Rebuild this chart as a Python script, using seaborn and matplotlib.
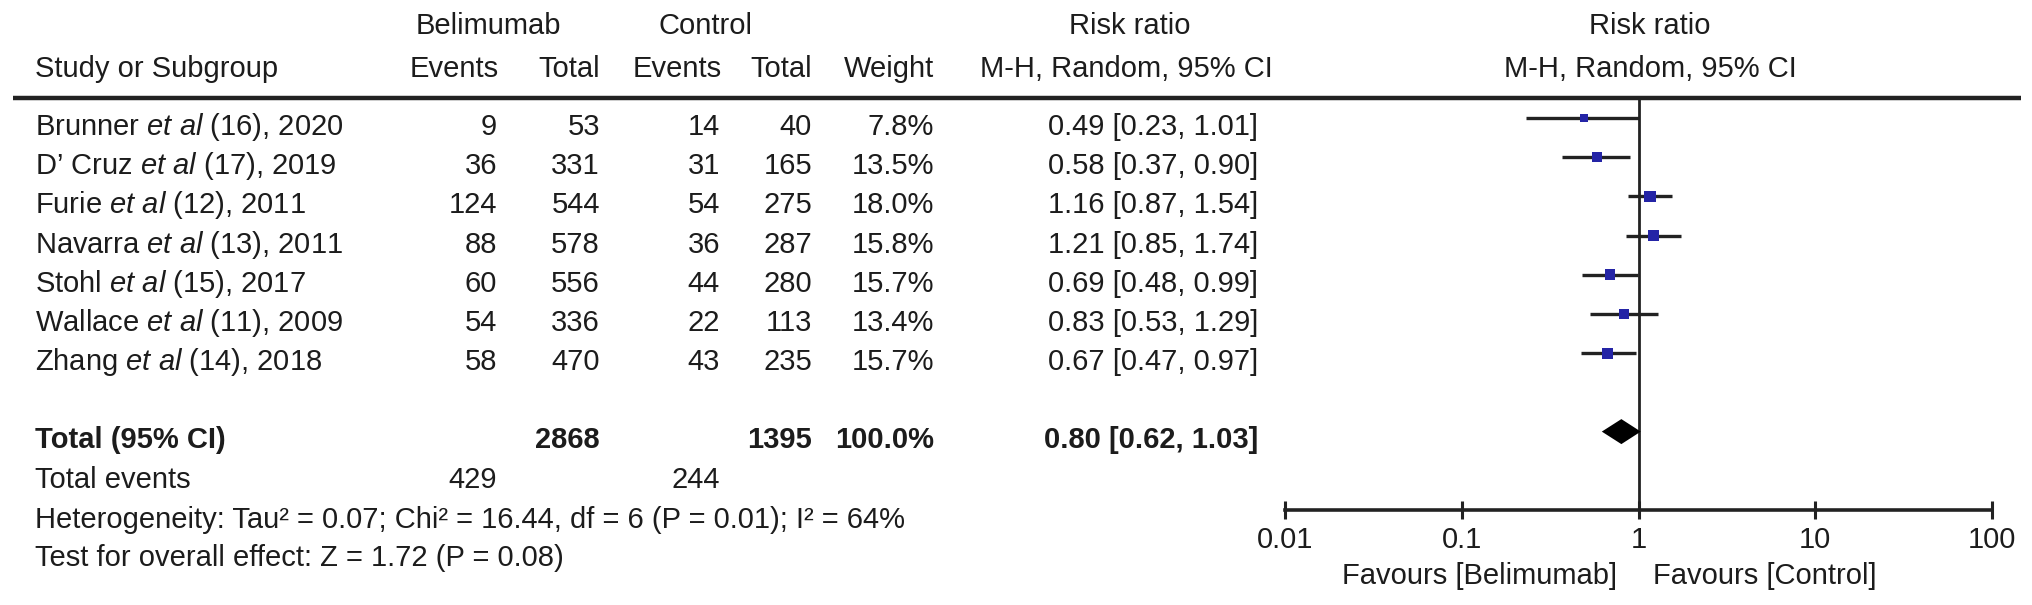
import numpy as np
import pandas as pd
import matplotlib
matplotlib.use("Agg")
import matplotlib.pyplot as plt
import seaborn as sns

# ---------------- data ----------------
authors = ["Brunner", "D’ Cruz", "Furie", "Navarra", "Stohl", "Wallace", "Zhang"]
refs = ["(16), 2020", "(17), 2019", "(12), 2011", "(13), 2011", "(15), 2017", "(11), 2009", "(14), 2018"]
bel_events = [9, 36, 124, 88, 60, 54, 58]
bel_total = [53, 331, 544, 578, 556, 336, 470]
ctl_events = [14, 31, 54, 36, 44, 22, 43]
ctl_total = [40, 165, 275, 287, 280, 113, 235]
weights = [7.8, 13.5, 18.0, 15.8, 15.7, 13.4, 15.7]
rr = [0.49, 0.58, 1.16, 1.21, 0.69, 0.83, 0.67]
rr_lo = [0.23, 0.37, 0.87, 0.85, 0.48, 0.53, 0.47]
rr_hi = [1.01, 0.90, 1.54, 1.74, 0.99, 1.29, 0.97]
total_bel = 2868
total_ctl = 1395
total_weight = "100.0%"
total_rr = 0.80
total_lo = 0.62
total_hi = 1.03
events_bel = 429
events_ctl = 244
heterogeneity = "Heterogeneity: Tau² = 0.07; Chi² = 16.44, df = 6 (P = 0.01); I² = 64%"
overall = "Test for overall effect: Z = 1.72 (P = 0.08)"
xticks = [0.01, 0.1, 1, 10, 100]
xticklabels = ["0.01", "0.1", "1", "10", "100"]
fav_left = "Favours [Belimumab]"
fav_right = "Favours [Control]"

# ---------------- style ----------------
sns.set_theme(style="white")
plt.rcParams["font.family"] = ["Liberation Sans", "DejaVu Sans"]
plt.rcParams["mathtext.fontset"] = "custom"
plt.rcParams["mathtext.rm"] = "Liberation Sans"
plt.rcParams["mathtext.it"] = "Liberation Sans:italic"
plt.rcParams["mathtext.bf"] = "Liberation Sans:bold"

W, H = 2032, 605
fig = plt.figure(figsize=(W / 100, H / 100), dpi=100)
fig.patch.set_facecolor("white")

FS = 21
TXT = "#1c1c1c"

# text overlay in pixel coordinates
tx = fig.add_axes([0, 0, 1, 1])
tx.set_xlim(0, W)
tx.set_ylim(H, 0)
tx.axis("off")

def put(x, y, s, ha="left", bold=False):
    tx.text(x, y, s, ha=ha, va="center", fontsize=FS, color=TXT,
            fontweight="bold" if bold else "normal")

# headers
put(488, 26, "Belimumab", ha="center")
put(705, 26, "Control", ha="center")
put(1130, 26, "Risk ratio", ha="center")
put(1650, 26, "Risk ratio", ha="center")
put(35, 69, "Study or Subgroup")
put(499, 69, "Events", ha="right")
put(600, 69, "Total", ha="right")
put(722, 69, "Events", ha="right")
put(812, 69, "Total", ha="right")
put(934, 69, "Weight", ha="right")
put(1126, 69, "M-H, Random, 95% CI", ha="center")
put(1650, 69, "M-H, Random, 95% CI", ha="center")
tx.plot([13, 2021], [98, 98], color="#222222", lw=3.2, solid_capstyle="butt")

# study rows
row0, step = 127, 39.2
for i in range(len(authors)):
    y = row0 + step * i
    put(35, y, authors[i] + r" $\mathit{et\ al}$ " + refs[i])
    put(497, y, str(bel_events[i]), ha="right")
    put(600, y, str(bel_total[i]), ha="right")
    put(720, y, str(ctl_events[i]), ha="right")
    put(812, y, str(ctl_total[i]), ha="right")
    put(934, y, f"{weights[i]:.1f}%", ha="right")
    put(1258, y, f"{rr[i]:.2f} [{rr_lo[i]:.2f}, {rr_hi[i]:.2f}]", ha="right")

# totals
put(35, 440, "Total (95% CI)", bold=True)
put(600, 440, str(total_bel), ha="right", bold=True)
put(812, 440, str(total_ctl), ha="right", bold=True)
put(934, 440, total_weight, ha="right", bold=True)
put(1258, 440, f"{total_rr:.2f} [{total_lo:.2f}, {total_hi:.2f}]", ha="right", bold=True)
put(35, 480, "Total events")
put(497, 480, str(events_bel), ha="right")
put(720, 480, str(events_ctl), ha="right")
put(35, 520, heterogeneity)
put(35, 558, overall)
put(1617, 576, fav_left, ha="right")
put(1653, 576, fav_right, ha="left")

# ---------------- forest plot ----------------
x0, x1 = 1285, 1992
y_top, y_bot = 98, 510
ax = fig.add_axes([x0 / W, 1 - y_bot / H, (x1 - x0) / W, (y_bot - y_top) / H])
ax.patch.set_alpha(0)
ax.set_xscale("log")
ax.set_xlim(0.01, 100)
mk0 = 118
ax.set_ylim((y_bot - mk0) / step, (y_top - mk0) / step)

rows = np.arange(len(authors))
df = pd.DataFrame({"rr": rr, "lo": rr_lo, "hi": rr_hi, "w": weights, "row": rows})

ax.axvline(1, color="#222222", lw=2.0, zorder=1)
ax.hlines(df["row"], df["lo"], df["hi"], color="#222222", lw=2.4, zorder=2)
sns.scatterplot(data=df, x="rr", y="row", size="w", sizes=(0, 78), size_norm=(0, 20),
                marker="s", color="#2424a6", edgecolor="none", legend=False, ax=ax, zorder=3)

# pooled diamond
trow = len(authors) + 1
hh = 12.5 / step
ax.fill([total_lo, total_rr, total_hi, total_rr],
        [trow, trow - hh, trow, trow + hh], color="black", lw=0, zorder=4)

for s in ["left", "right", "top"]:
    ax.spines[s].set_visible(False)
ax.spines["bottom"].set_linewidth(2.6)
ax.spines["bottom"].set_color("#222222")
ax.set_xticks(xticks)
ax.set_xticklabels(xticklabels)
ax.xaxis.set_minor_locator(matplotlib.ticker.NullLocator())
ax.tick_params(axis="x", which="major", direction="inout", length=13, width=2.2,
               color="#222222", labelsize=FS, labelcolor=TXT, pad=5, bottom=True)
ax.set_yticks([])
ax.set_xlabel("")
ax.set_ylabel("")

fig.savefig("out.png", dpi=100, facecolor="white")
